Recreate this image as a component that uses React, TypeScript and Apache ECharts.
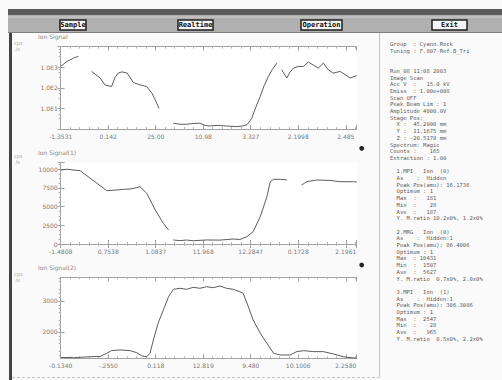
import React, { useEffect, useRef } from 'react';
import * as echarts from 'echarts';

// ---------- data ----------
const xLabels1 = ['-1.3531', '0.142', '25.00', '10.98', '3.327', '2.1998', '2.485'];
const xLabels2 = ['-1.4808', '0.7538', '1.0837', '11.968', '12.2847', '0.1728', '2.1961'];
const xLabels3 = ['-0.1340', '-.2550', '0.118', '12.819', '9.480', '10.1006', '2.2580'];

const c1Time = [0, 0.13, 0.27, 0.37, 0.5, 0.65, 0.83, 0.93, 1.07, 1.14, 1.21, 1.29, 1.4, 1.53, 1.67, 1.81, 1.92, 1.99, 2.07, 2.2,
  2.37, 2.51, 2.65, 2.79, 2.93, 3.04, 3.14, 3.31, 3.49, 3.7, 3.82, 3.92, 4.02, 4.11, 4.2, 4.28, 4.37, 4.45, 4.55, 4.6,
  4.65, 4.76, 4.83, 4.9, 5.0, 5.11, 5.21, 5.31, 5.42, 5.53, 5.63, 5.74, 5.88, 5.99, 6.09, 6.23];
const c1Cps = [1100, 1900, 2800, 3400, null, 630, 300, 140, 115, 310, 520, 600, 520, 180, 140, 115, 55, 26, 10, null,
  1.9, 1.7, 1.7, 1.85, 1.9, 1.5, 1.4, 1.5, 1.4, 1.3, 1.4, 1.6, 3.3, 12, 38, 125, 355, 760, 1600, null,
  760, 300, 600, 910, 1100, 1100, 1800, 1320, 910, 1600, 760, 520, 630, 430, 300, 390];

const c2Time = [0, 0.13, 0.41, 0.97, 1.18, 1.32, 1.46, 1.6, 1.67, 1.81, 1.99, 2.16, 2.27, 2.32,
  2.37, 2.51, 2.65, 2.79, 3.07, 3.35, 3.63, 3.77, 3.92, 4.05, 4.2, 4.34, 4.41, 4.48, 4.62, 4.76, 5.0,
  5.07, 5.18, 5.39, 5.67, 5.88, 6.16, 6.23];
const c2Cps = [9890, 9990, 9800, 7130, 7220, 7310, 7350, 7530, 7660, 6780, 4545, 2770, 1870, null,
  535, 450, 530, 440, 540, 520, 670, 600, 980, 1640, 3650, 6320, 8330, 8650, 8650, 8560, null,
  7890, 8330, 8560, 8500, 8330, 8330, 8300];

const c3Time = [0, 0.27, 0.62, 0.83, 0.97, 1.07, 1.25, 1.46, 1.6, 1.71, 1.81, 1.88, 1.95, 2.05, 2.16, 2.27, 2.37, 2.51,
  2.65, 2.79, 2.93, 3.07, 3.21, 3.35, 3.49, 3.63, 3.77, 3.84, 3.95, 4.05, 4.2, 4.34, 4.48, 4.62, 4.83, 4.97,
  5.11, 5.32, 5.53, 5.74, 5.95, 6.23];
const c3Cps = [1180, 1170, 1200, 1210, 1313, 1397, 1420, 1397, 1332, 1226, 1200, 1313, 1742, 2281, 2710, 3139, 3377, 3410,
  3377, 3442, 3410, 3461, 3430, 3484, 3410, 3377, 3300, 3248, 2816, 2387, 1958, 1635, 1313, 1258, 1258, 1365,
  1397, 1365, 1365, 1290, 1200, 1150];

const y1Labels: Record<number, string> = { 10: '1.0E1', 100: '1.0E2', 1000: '1.0E3' };
const y2Ticks = [0, 2500, 5000, 7500, 10000];
const y3Ticks = [2000, 3000];

const chartTitles = ['Ion Signal', 'Ion Signal(1)', 'Ion Signal(2)'];
const buttons = ['Sample', 'Realtime', 'Operation', 'Exit'];

const infoLines = [
  'Group  : Cyano.Rock',
  'Tuning : F.807-Ref.B_Tri',
  '',
  '',
  'Run 08 11:08 2003',
  'Image Scan',
  'Acc V  :   15.0 kV',
  'Emiss  : 1.00e+008',
  'Scan OFF',
  'Peak Beam Lim : 1',
  'Amplitude 4000.0V',
  'Stage Pos:',
  '  X :  45.2000 mm',
  '  Y :  11.1675 mm',
  '  Z : -20.5170 mm',
  'Spectrum: Magic',
  'Counts :    165',
  'Extraction : 1.00',
  '',
  '  1.MPI   Ion  (0)',
  '  As    :  Hidden',
  '  Peak Pos(amu): 16.1736',
  '  Optimum : 1',
  '  Max  :   181',
  '  Min  :    28',
  '  Ave  :   187',
  '  Y. M.ratio 10.2x0%, 1.2x0%',
  '',
  '  2.MRG   Ion  (0)',
  '  As    :  Hidden:1',
  '  Peak Pos(amu): 86.4006',
  '  Optimum : 1',
  '  Max  : 10431',
  '  Min  :  1507',
  '  Ave  :  5627',
  '  Y. M.ratio  0.7x0%, 2.0x0%',
  '',
  '  3.MPI   Ion  (1)',
  '  As    :  Hidden:1',
  '  Peak Pos(amu): 306.3086',
  '  Optimum : 1',
  '  Max  :  2547',
  '  Min  :    28',
  '  Ave  :   965',
  '  Y. M.ratio  0.5x0%, 2.2x0%',
];

// ---------- layout ----------
const GRIDS = [
  { left: 60.7, top: 46.7, width: 296, height: 82.3 },
  { left: 60.7, top: 162.7, width: 296, height: 81.3 },
  { left: 60.7, top: 277.3, width: 296, height: 81 },
];
const X_MAX = 6.23;
const AXIS_COLOR = '#a2a2a2';
const LABEL = { color: '#7a7a7a', fontSize: 6, fontFamily: 'DejaVu Sans' };
const BTN_X = [[60, 86], [178, 213], [301, 342], [432, 467]];

function toData(t: number[], v: (number | null)[]) {
  return t.map((x, i) => (v[i] == null ? [x, '-'] : [x, v[i]]));
}

function makeXAxes(gridIndex: number, labels: string[]) {
  const base: any = {
    type: 'value', gridIndex, min: 0, max: X_MAX, interval: 1,
    axisLine: { show: true, lineStyle: { color: AXIS_COLOR, width: 1 } },
    splitLine: { show: false },
    axisTick: { show: true, inside: true, length: 4, lineStyle: { color: AXIS_COLOR } },
    minorTick: { show: true, splitNumber: 5, length: 2, lineStyle: { color: '#b4b4b4' } },
  };
  return [
    {
      ...base, position: 'bottom',
      axisLabel: {
        ...LABEL, margin: 4,
        formatter: (v: number) => {
          const i = Math.round(v);
          return Math.abs(v - i) < 1e-6 ? labels[i] ?? '' : '';
        },
      },
    },
    { ...base, position: 'top', axisLabel: { show: false } },
  ];
}

function yPair(gridIndex: number, cfg: any, label: any, tickCustom?: number[]) {
  const base: any = {
    gridIndex, ...cfg,
    axisLine: { show: true, lineStyle: { color: AXIS_COLOR, width: 1 } },
    splitLine: { show: false },
  };
  const custom = tickCustom ? { customValues: tickCustom } : {};
  return [
    { ...base, position: 'left', axisTick: { show: true, inside: true, length: 4, lineStyle: { color: AXIS_COLOR }, ...custom }, axisLabel: { ...LABEL, margin: 3, ...label } },
    { ...base, position: 'right', axisTick: { show: true, inside: true, length: 3, lineStyle: { color: AXIS_COLOR }, ...custom }, minorTick: { show: true, splitNumber: 4, length: 2, lineStyle: { color: '#b4b4b4' } }, axisLabel: { show: false } },
  ];
}

export default function App() {
  const ref = useRef<HTMLDivElement>(null);

  useEffect(() => {
    if (!ref.current) return;
    const chart = echarts.init(ref.current, null, { renderer: 'svg' });

    const yAxes = [
      ...yPair(0, { type: 'log', logBase: 10, min: 1, max: 10000 }, {
        formatter: (v: number) => y1Labels[Math.round(v)] ?? '',
      }),
      ...yPair(1, { type: 'value', min: 0, max: 10870, interval: 2500 }, {
        formatter: (v: number) => (y2Ticks.includes(v) ? String(v) : ''),
      }),
      ...yPair(2, { type: 'value', min: 1150, max: 3765 }, {
        customValues: y3Ticks,
        formatter: (v: number) => String(Math.round(v)),
      }, y3Ticks),
    ];

    const xAxes = [
      ...makeXAxes(0, xLabels1),
      ...makeXAxes(1, xLabels2),
      ...makeXAxes(2, xLabels3),
    ];

    const lineStyle = { color: '#5c5c5c', width: 1 };
    const series = [
      { data: toData(c1Time, c1Cps), xAxisIndex: 0, yAxisIndex: 0 },
      { data: toData(c2Time, c2Cps), xAxisIndex: 2, yAxisIndex: 2 },
      { data: toData(c3Time, c3Cps), xAxisIndex: 4, yAxisIndex: 4 },
    ].map((s) => ({ ...s, type: 'line', showSymbol: false, connectNulls: false, lineStyle, silent: true }));

    const graphic: any[] = [];
    // toolbar
    graphic.push({ type: 'rect', shape: { x: 8, y: 9, width: 494, height: 24 }, style: { fill: '#b0b0b0' } });
    graphic.push({ type: 'rect', shape: { x: 8, y: 9, width: 494, height: 6 }, style: { fill: '#5a5a5a' } });
    graphic.push({ type: 'line', shape: { x1: 8, y1: 17, x2: 502, y2: 17 }, style: { stroke: '#cdcdcd', lineWidth: 1 } });
    graphic.push({ type: 'line', shape: { x1: 8, y1: 32.5, x2: 502, y2: 32.5 }, style: { stroke: '#808080', lineWidth: 1 } });
    buttons.forEach((b, i) => {
      const [x1, x2] = BTN_X[i];
      graphic.push({ type: 'rect', shape: { x: x1, y: 20, width: x2 - x1, height: 10 }, style: { fill: '#f4f4f4', stroke: '#1e1e1e', lineWidth: 1.5 } });
      graphic.push({ type: 'text', x: (x1 + x2) / 2, y: 25, style: { text: b, fill: '#111', font: 'bold 7px "DejaVu Sans Mono"', align: 'center', verticalAlign: 'middle' } });
    });
    // left dark border
    graphic.push({ type: 'rect', shape: { x: 9, y: 33, width: 3, height: 347 }, style: { fill: '#444444' } });
    // right panel border and bottom line
    graphic.push({ type: 'line', shape: { x1: 379.5, y1: 33, x2: 379.5, y2: 377 }, style: { stroke: '#c4c4c4', lineWidth: 1 } });
    graphic.push({ type: 'line', shape: { x1: 12, y1: 377.5, x2: 379.5, y2: 377.5 }, style: { stroke: '#c4c4c4', lineWidth: 1, lineDash: [3, 2] } });
    // chart titles & units
    const titleY = [36, 152, 267];
    const unitY = [40, 153, 271];
    chartTitles.forEach((t, i) => {
      graphic.push({ type: 'text', x: 38, y: titleY[i], style: { text: t, fill: '#888888', font: '6px "DejaVu Sans"', verticalAlign: 'middle' } });
      graphic.push({ type: 'text', x: 14, y: unitY[i], style: { text: 'cps\n /s', fill: '#a0a0a0', font: '5px "DejaVu Sans"', verticalAlign: 'top', lineHeight: 6 } });
    });
    // status dots
    [148.3, 265].forEach((y) => {
      graphic.push({ type: 'circle', shape: { cx: 361.7, cy: y, r: 2.4 }, style: { fill: '#222' } });
    });
    // right info panel
    infoLines.forEach((line, i) => {
      if (!line) return;
      graphic.push({ type: 'text', x: 390, y: 44 + i * 6.7, style: { text: line, fill: '#606060', font: '5.5px "DejaVu Sans Mono"', verticalAlign: 'middle' } });
    });

    chart.setOption({
      animation: false,
      backgroundColor: '#fafafa',
      grid: GRIDS.map((g) => ({ ...g, containLabel: false, show: true, backgroundColor: '#ffffff', borderWidth: 0 })),
      xAxis: xAxes,
      yAxis: yAxes,
      series,
      graphic,
    } as any);

    return () => chart.dispose();
  }, []);

  return <div ref={ref} style={{ position: 'fixed', left: 0, top: 0, width: 502, height: 380 }} />;
}
